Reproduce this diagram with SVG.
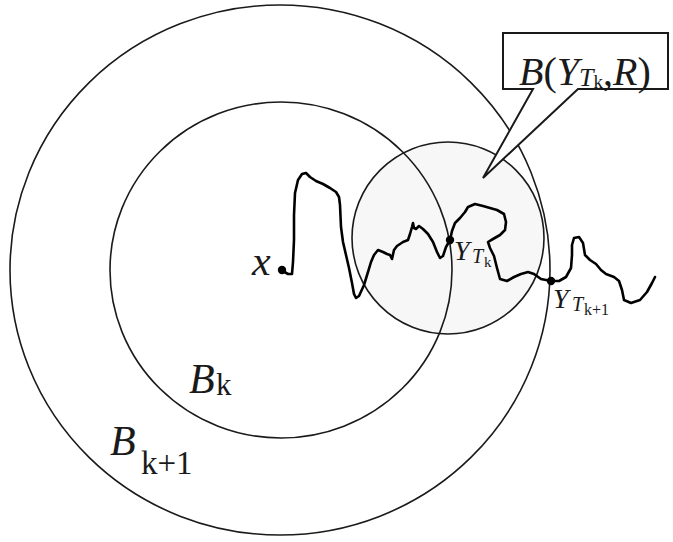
<svg xmlns="http://www.w3.org/2000/svg" width="673" height="542" viewBox="0 0 673 542">
<style>
.c{fill:none;stroke:#1a1a1a;stroke-width:1.6}
.w{fill:none;stroke:#000;stroke-width:2.6;stroke-linejoin:round;stroke-linecap:round}
.t{font-family:"Liberation Serif","Times New Roman",serif;fill:#1a1a1a}
.i{font-style:italic}
</style>
<rect width="673" height="542" fill="#fff"/>
<g id="ball-R">
<circle cx="448" cy="238" r="96" fill="#f7f7f7"/>
</g>
<g id="B-k1"><ellipse class="c" cx="280" cy="270" rx="270" ry="265"/></g>
<g id="B-k"><ellipse class="c" cx="281" cy="270" rx="171" ry="168"/></g>
<g id="ball-R-edge"><circle class="c" cx="448" cy="238" r="96"/></g>
<g id="connectors">
<path class="w" d="M281,270 L288,274 292,274 293,262 294,240 294,215 295,193 298,180 302,174 306,173 310,177 316,181 323,184 330,188 336,192 339,197 340,205 341,227 343,242 346,255 349,268 352,283 354,294 356,298 359,296 364,285 368,272 371,262 374,255 378,250 383,252 387,254 390,255 392,259 394,250 397,246 403,242 408,240 410,234 412,227 413,223 414,228 416,229 419,226 423,229 428,234 433,242 437,252 440,258 443,256 446,247 450,240 452,231 455,223 460,218 465,212 468,207 475,204 483,206 490,208 497,210 504,214 506,222 505,230 500,235 493,239 488,242 490,248 494,256 497,268 500,279 507,281 514,277 521,274 528,272 534,274 541,279 551,281 559,281 566,277 571,268 572,255 572,245 574,238 579,237 583,243 585,255 590,260 596,264 601,270 606,274 614,277 619,281 622,290 624,300 631,303 640,300 647,292 652,283 655,277"/>
</g>
<g id="x"><circle cx="282" cy="270" r="4.2" fill="#000"/><text class="t i" x="252" y="275" font-size="42">x</text></g>
<g id="Y-Tk"><circle cx="450" cy="240" r="4.2" fill="#000"/><text class="t" y="260"><tspan class="i" x="454" font-size="28">Y</tspan><tspan class="i" x="472" y="263" font-size="20">T</tspan><tspan x="484" y="267" font-size="15">k</tspan></text></g>
<g id="Y-Tk1"><circle cx="551" cy="281" r="4.2" fill="#000"/><text class="t" y="308"><tspan class="i" x="553" font-size="28">Y</tspan><tspan class="i" x="572" y="311" font-size="20">T</tspan><tspan x="584" y="315" font-size="16">k+1</tspan></text></g>
<g id="callout">
<path d="M503,33 H668 V89 H578 L483,178 L533,89 H503 Z" fill="#fff" stroke="#1a1a1a" stroke-width="2" stroke-linejoin="miter"/>
<text class="t" x="519" y="85" font-size="40"><tspan class="i">B</tspan><tspan>(</tspan><tspan class="i">Y</tspan><tspan class="i" dy="1" font-size="26">T</tspan><tspan dy="2" font-size="19">k</tspan><tspan dy="-3">,</tspan><tspan class="i">R</tspan><tspan>)</tspan></text>
</g>
<g id="label-Bk"><text class="t" y="393" font-size="42"><tspan class="i" x="189">B</tspan><tspan x="216" y="395" font-size="31">k</tspan></text></g>
<g id="label-Bk1"><text class="t" y="455" font-size="42"><tspan class="i" x="110">B</tspan><tspan x="141" y="474" font-size="33">k+1</tspan></text></g>
</svg>
